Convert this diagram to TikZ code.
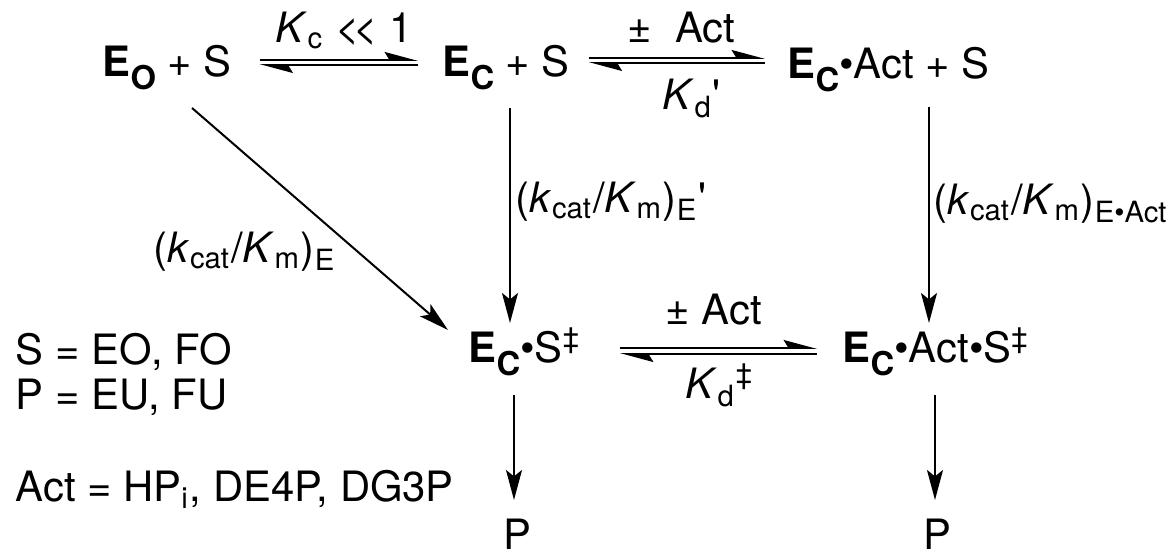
\documentclass[tikz,border=0pt]{standalone}
\usepackage{fontspec}
\setmainfont{TeX Gyre Heros}
\usetikzlibrary{arrows.meta,positioning,calc}
% bold, lowered subscript of the enzyme forms
\newcommand\enzsub[1]{\raisebox{-0.3em}{\fontsize{8.2}{9}\selectfont\bfseries #1}}

\begin{document}
\begin{tikzpicture}[x=0.25pt,y=-0.25pt,
  every node/.style={font=\fontsize{10.45}{12}\selectfont,inner sep=0pt,anchor=base west},
  rxn/.style={line width=0.5pt,-{Stealth[length=7.5pt,width=4pt,inset=1.6pt]}},
  eq/.style={line width=0.45pt,-{Stealth[harpoon,length=7.5pt,width=4pt,inset=1.2pt]}}]
\useasboundingbox (0,0) rectangle (1170,552);
% species
\node (eo) at (102,77) {\textbf{E}\enzsub{O} + S};
\node (ec) at (442,77) {\textbf{E}\enzsub{C} + S};
\node (eca) at (787,79) {\textbf{E}\enzsub{C}\textbullet Act + S};
\node (ecs) at (468,363) {\textbf{E}\enzsub{C}\textbullet S\textsuperscript{\textdaggerdbl}};
\node (ecas) at (842,363) {\textbf{E}\enzsub{C}\textbullet Act\textbullet S\textsuperscript{\textdaggerdbl}};
\node (p1) at (503,550) {P};
\node (p2) at (923,550) {P};
% equilibria (forward on top, back below)
\draw[eq] ([shift={(27,-17)}]eo.base east) -- ([shift={(-24,-17)}]ec.base west);
\draw[eq] ([shift={(-24,-12)}]ec.base west) -- ([shift={(27,-12)}]eo.base east);
\draw[eq] ([shift={(18,-19)}]ec.base east) -- ([shift={(-22,-21)}]eca.base west);
\draw[eq] ([shift={(-22,-16)}]eca.base west) -- ([shift={(18,-14)}]ec.base east);
\draw[eq] ([shift={(38,-15)}]ecs.base east) -- ([shift={(-25,-15)}]ecas.base west);
\draw[eq] ([shift={(-25,-9)}]ecas.base west) -- ([shift={(38,-9)}]ecs.base east);
\node (kc) at (275,43) {\textit{K}\textsubscript{c} <\kern-1.6pt< 1};
\node (act1) at (627,43) {\textpm\ \ Act};
\node (kd1) at (662,110) {\textit{K}\textsubscript{d}\textquotesingle};
\node (act2) at (665,325) {\textpm\ Act};
\node (kd2) at (685,399) {\textit{K}\textsubscript{d}\textsuperscript{\textdaggerdbl}};
% catalytic steps
\draw[rxn] ([shift={(90,31)}]eo.base west) -- ([shift={(-20,-33)}]ecs.base west);
\draw[rxn] ([shift={(68,31)}]ec.base west) -- ([shift={(42,-40)}]ecs.base west);
\draw[rxn] ([shift={(142,28)}]eca.base west) -- ([shift={(87,-40)}]ecas.base west);
\draw[rxn] ([shift={(46,32)}]ecs.base west) -- ([shift={(11,-50)}]p1.base west);
\draw[rxn] ([shift={(93,32)}]ecas.base west) -- ([shift={(12,-50)}]p2.base west);
\node (ke) at (153,263) {(\textit{k}\textsubscript{cat}/\textit{K}\textsubscript{m})\textsubscript{E}};
\node (kep) at (515,213) {(\textit{k}\textsubscript{cat}/\textit{K}\textsubscript{m})\textsubscript{E}\textquotesingle};
\node (kea) at (933,215) {(\textit{k}\textsubscript{cat}/\textit{K}\textsubscript{m})\textsubscript{E\textbullet Act}};
% legend
\node (lgs) at (15,365) {S = EO, FO};
\node (lgp) at (15,410) {P = EU, FU};
\node (lga) at (15,502) {Act = HP\textsubscript{i}, DE4P, DG3P};
\end{tikzpicture}
\end{document}
